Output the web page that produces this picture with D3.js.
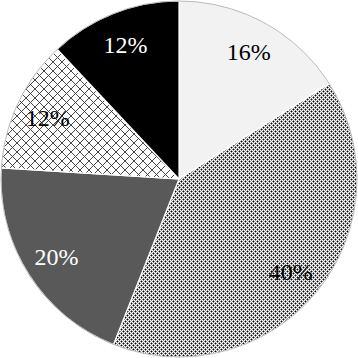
<!DOCTYPE html>
<html>
<head>
<meta charset="utf-8">
<script src="https://cdn.jsdelivr.net/npm/d3@7"></script>
<style>
  body { margin: 0; background: #fff; }
</style>
</head>
<body>
<div class="chart"></div>
<script>
const labels = ["16%", "40%", "20%", "12%", "12%"];
const values = [16, 40, 20, 12, 12];
const fills = ["#f2f2f2", "url(#dots)", "#595959", "url(#lattice)", "#000000"];
const textColors = ["#000", "#000", "#fff", "#000", "#fff"];

const width = 358;
const height = 358;
const radius = 178;

const svg = d3.select(".chart")
    .append("svg")
    .attr("width", width)
    .attr("height", height);

const defs = svg.append("defs");

// dense dotted pattern
const dots = defs.append("pattern")
    .attr("id", "dots")
    .attr("patternUnits", "userSpaceOnUse")
    .attr("width", 4)
    .attr("height", 4);
dots.append("rect").attr("width", 4).attr("height", 4).attr("fill", "#fff");
[[0, 0], [2, 2]].forEach(([x, y]) => {
    dots.append("rect").attr("x", x).attr("y", y).attr("width", 1).attr("height", 1).attr("fill", "#000");
});
[[1, 0], [0, 1], [3, 2], [2, 3], [3, 0], [0, 3], [1, 2], [2, 1]].forEach(([x, y]) => {
    dots.append("rect").attr("x", x).attr("y", y).attr("width", 1).attr("height", 1).attr("fill", "#8a8a8a");
});

// open lattice pattern
const lattice = defs.append("pattern")
    .attr("id", "lattice")
    .attr("patternUnits", "userSpaceOnUse")
    .attr("width", 9)
    .attr("height", 9);
lattice.append("rect").attr("width", 9).attr("height", 9).attr("fill", "#fff");
lattice.append("path")
    .attr("d", "M0,0 L9,9 M9,0 L0,9")
    .attr("stroke", "#333")
    .attr("stroke-width", 0.9);

const g = svg.append("g")
    .attr("transform", `translate(${width / 2}, ${height / 2})`);

const pie = d3.pie().sort(null).value(d => d);
const arcs = pie(values);

const arc = d3.arc().innerRadius(0).outerRadius(radius);
const labelArc = d3.arc().innerRadius(145).outerRadius(145);

g.selectAll(".slice")
    .data(arcs)
    .enter()
    .append("path")
    .attr("class", "slice")
    .attr("d", arc)
    .attr("fill", (d, i) => fills[i])
    .attr("stroke", "#fff")
    .attr("stroke-width", 1.2);

g.append("circle")
    .attr("r", radius)
    .attr("fill", "none")
    .attr("stroke", "#a6a6a6")
    .attr("stroke-width", 0.8);

g.selectAll(".label")
    .data(arcs)
    .enter()
    .append("text")
    .attr("class", "label")
    .attr("transform", d => `translate(${labelArc.centroid(d)})`)
    .attr("text-anchor", "middle")
    .attr("dy", "0.35em")
    .attr("font-family", "'Liberation Serif', 'Times New Roman', serif")
    .attr("font-size", 24)
    .attr("fill", (d, i) => textColors[i])
    .text((d, i) => labels[i]);
</script>
</body>
</html>
